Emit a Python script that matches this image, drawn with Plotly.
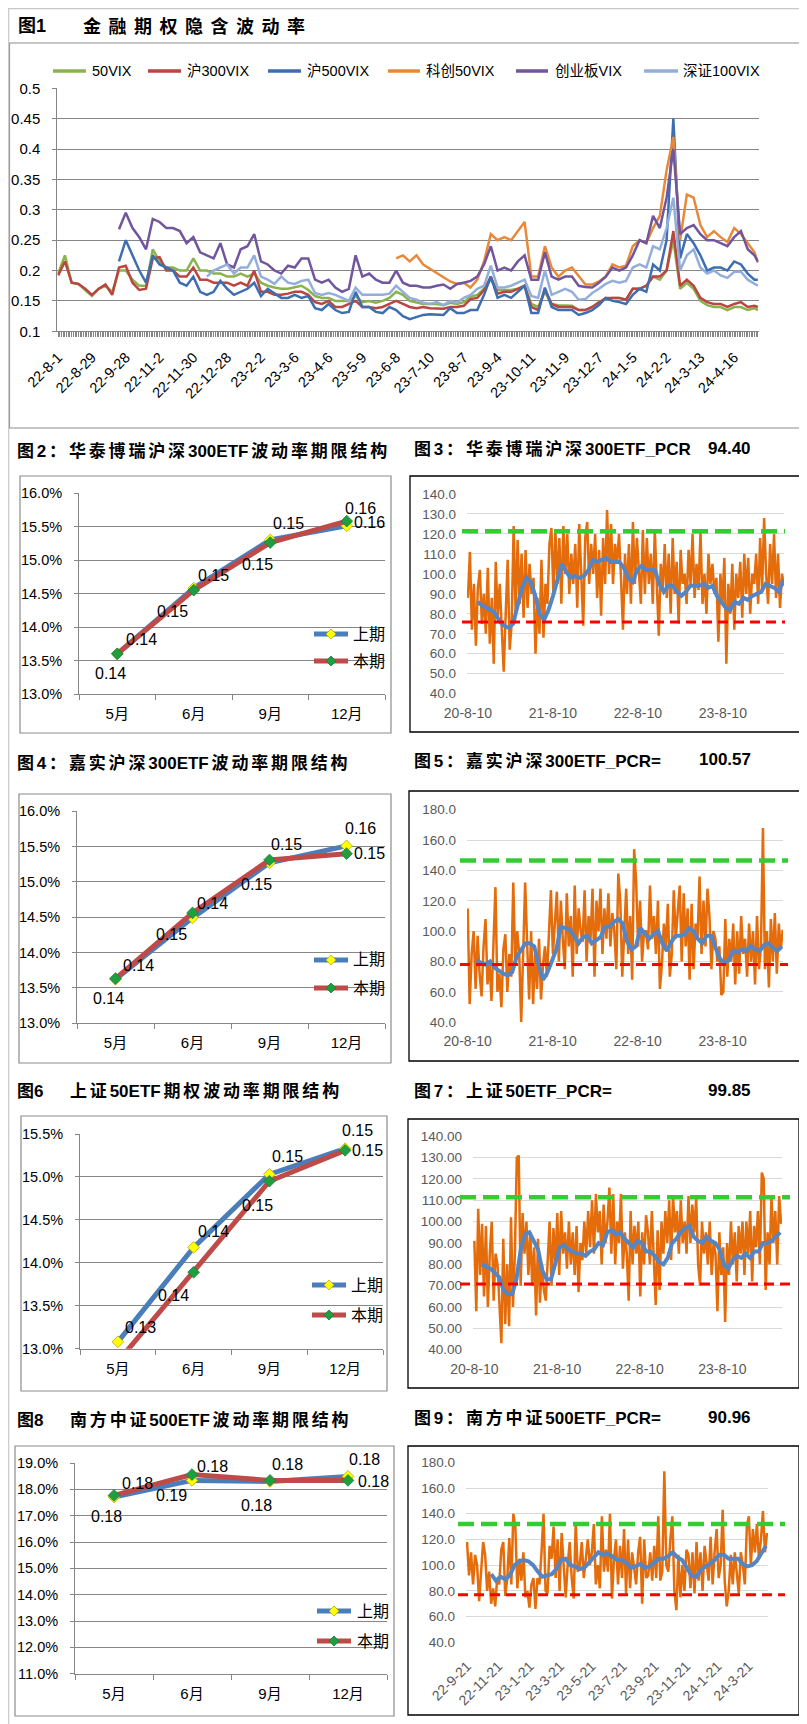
import pandas as pd
import plotly.graph_objects as go

FW, FH = 807, 1724
def fx(x): return x / FW
def fy(y): return 1 - y / FH
N = None
FONT = "Liberation Sans, Arial, Noto Sans CJK SC, sans-serif"
EPS = 1e-7

# ---------------- 图1 data (trading-day index, every 4th day) ----------------
VIX_IDX = list(range(0, 413, 4)) + [414]
VIX_TICK_POS = list(range(0, 401, 20))
VIX_TICK_LABELS = ["22-8-1", "22-8-29", "22-9-28", "22-11-2", "22-11-30", "22-12-28", "23-2-2",
                   "23-3-6", "23-4-6", "23-5-9", "23-6-8", "23-7-10", "23-8-7", "23-9-4", "23-10-11",
                   "23-11-9", "23-12-7", "24-1-5", "24-2-2", "24-3-13", "24-4-16"]
VIX_Y_TICKS = [0.1, 0.15, 0.2, 0.25, 0.3, 0.35, 0.4, 0.45, 0.5]
VIX_Y_TEXT = ["0.1", "0.15", "0.2", "0.25", "0.3", "0.35", "0.4", "0.45", "0.5"]

VIX_50 = [.195, .225, .18, .178, .168, .158, .17, .175, .165, .2,
          .2, .185, .175, .175, .235, .215, .205, .205, .2, .2,
          .22, .2, .2, .195, .195, .19, .19, .195, .19, .195,
          .18, .175, .172, .17, .17, .172, .175, .168, .158, .155,
          .155, .15, .15, .15, .158, .148, .15, .147, .15, .155,
          .165, .16, .15, .147, .145, .145, .145, .143, .147, .145,
          .148, .157, .16, .17, .185, .168, .168, .168, .17, .175,
          .145, .14, .165, .145, .143, .142, .142, .135, .135, .14,
          .148, .153, .155, .155, .152, .17, .17, .175, .19, .185,
          .2, .25, .17, .18, .17, .15, .143, .14, .14, .135,
          .14, .14, .135, .138, .135]
VIX_HS300 = [.192, .215, .18, .178, .17, .16, .17, .177, .16, .205,
             .208, .18, .168, .17, .22, .222, .2, .2, .19, .19,
             .205, .185, .185, .18, .18, .18, .175, .18, .175, .2,
             .165, .165, .16, .16, .162, .165, .165, .16, .148, .145,
             .15, .14, .14, .145, .15, .14, .14, .138, .14, .145,
             .15, .145, .14, .138, .14, .138, .138, .137, .14, .14,
             .142, .153, .155, .168, .19, .162, .165, .165, .17, .175,
             .14, .135, .17, .145, .14, .14, .14, .135, .135, .14,
             .148, .155, .155, .155, .152, .17, .17, .175, .19, .19,
             .2, .265, .175, .185, .175, .155, .148, .145, .145, .14,
             .145, .148, .14, .142, .14]
VIX_ZZ500 = [N, N, N, N, N, N, N, N, N, .215,
             .25, .225, .2, .18, .225, .21, .205, .2, .18, .175,
             .19, .165, .16, .165, .183, .17, .16, .165, .17, .18,
             .158, .17, .162, .155, .155, .16, .155, .158, .138, .135,
             .145, .135, .13, .132, .165, .14, .14, .132, .13, .14,
             .135, .125, .12, .123, .127, .128, .128, .127, .138, .13,
             .13, .135, .135, .16, .19, .155, .16, .155, .165, .175,
             .13, .13, .172, .14, .135, .135, .135, .127, .13, .135,
             .143, .155, .15, .148, .145, .16, .17, .165, .21, .2,
             .25, .45, .22, .26, .245, .225, .2, .205, .205, .2,
             .215, .21, .195, .185, .185]
VIX_KC50 = [N] * 50 + [
             .22, .225, .215, .225, .21, .203, .197, .19, .182, .178,
             .18, .172, .185, .215, .26, .25, .255, .25, .265, .28,
             .19, .19, .24, .205, .19, .2, .205, .19, .177, .177,
             .182, .19, .21, .205, .208, .24, .25, .245, .27, .29,
             .365, .42, .25, .325, .32, .275, .255, .265, .255, .247,
             .27, .26, .245, .23, .213]
VIX_CYB = [N, N, N, N, N, N, N, N, N, .268,
           .295, .27, .255, .235, .285, .28, .27, .27, .265, .245,
           .255, .23, .225, .22, .245, .21, .205, .235, .24, .26,
           .215, .21, .2, .195, .208, .205, .22, .22, .185, .18,
           .185, .172, .165, .17, .225, .19, .195, .185, .18, .18,
           .2, .18, .175, .175, .172, .172, .175, .177, .17, .178,
           .18, .183, .19, .21, .24, .2, .205, .2, .215, .225,
           .185, .185, .23, .19, .185, .19, .19, .175, .173, .172,
           .18, .19, .205, .2, .205, .225, .25, .245, .29, .27,
           .32, .4, .26, .27, .275, .26, .25, .25, .245, .24,
           .255, .265, .235, .225, .215]
VIX_SZ100 = [N] * 22 + [
             .19, .2, .205, .21, .195, .205, .205, .225,
             .19, .185, .178, .19, .18, .178, .183, .185, .163, .16,
             .163, .16, .155, .15, .172, .16, .16, .16, .16, .162,
             .175, .165, .155, .152, .147, .145, .148, .143, .15, .147,
             .155, .16, .17, .175, .208, .172, .172, .175, .18, .185,
             .158, .155, .2, .16, .165, .17, .165, .152, .153, .163,
             .17, .178, .183, .18, .183, .205, .21, .205, .24, .235,
             .27, .32, .2, .225, .235, .205, .195, .2, .192, .188,
             .198, .198, .185, .178, .175]
VIX_SERIES = [("50VIX", VIX_50, "#8AB34E"), ("沪300VIX", VIX_HS300, "#BA4541"),
              ("沪500VIX", VIX_ZZ500, "#3D6FB0"), ("科创50VIX", VIX_KC50, "#E8893A"),
              ("创业板VIX", VIX_CYB, "#71569E"), ("深证100VIX", VIX_SZ100, "#93AEDA")]

# ---------------- term structure data ----------------
TERM_CATS = ["5月", "6月", "9月", "12月"]
HT300_PREV = [0.1360, 0.1458, 0.1530, 0.1551]
HT300_CURR = [0.1360, 0.1455, 0.1526, 0.1558]
JS300_PREV = [0.1362, 0.1449, 0.1527, 0.1551]
JS300_CURR = [0.1363, 0.1456, 0.1531, 0.1540]
SZ50_PREV = [0.1308, 0.1418, 0.1503, 0.1533]
SZ50_CURR = [0.1285, 0.1389, 0.1495, 0.1531]
NF500_PREV = [0.1771, 0.1834, 0.1830, 0.1849]
NF500_CURR = [0.1777, 0.1856, 0.1834, 0.1834]

# ---------------- PCR data ----------------
HT300_PCR = [88, 111, 72, 95, 64, 93, 102, 75, 90, 70,
             103, 65, 88, 55, 106, 78, 95, 70, 51, 80,
             107, 62, 75, 124, 80, 117, 85, 110, 78, 112,
             83, 105, 90, 98, 60, 88, 70, 107, 68, 95,
             85, 115, 123, 90, 122, 95, 118, 85, 124, 100,
             120, 90, 110, 95, 115, 83, 125, 100, 74, 118,
             126, 95, 115, 100, 120, 88, 112, 79, 118, 95,
             132, 100, 125, 95, 115, 105, 120, 98, 72, 110,
             90, 115, 85, 126, 95, 118, 100, 85, 122, 90,
             118, 95, 110, 85, 122, 90, 69, 105, 92, 115,
             88, 110, 80, 118, 90, 106, 75, 112, 95, 100,
             85, 112, 95, 120, 88, 105, 92, 121, 85, 100,
             80, 110, 95, 105, 90, 98, 66, 100, 85, 108,
             55, 95, 80, 105, 72, 100, 88, 106, 78, 110,
             90, 108, 80, 100, 95, 110, 85, 118, 92, 128,
             100, 85, 115, 95, 120, 88, 110, 83, 100, 94]
HT300_MA = [86, 84, 83, 82, 80, 76, 74, 73, 75, 84, 93, 98, 96, 89, 80, 77, 82, 89, 98, 105,
            101, 98, 99, 98, 99, 102, 107, 106, 107, 108, 106, 106, 106, 103, 98, 96, 102, 104, 102, 102,
            102, 95, 91, 94, 94, 91, 89, 91, 94, 94, 94, 95, 93, 94, 89, 86, 83, 82, 86, 85,
            88, 87, 89, 90, 91, 95, 94, 93, 91, 97]
HT300_DATES = ("2020-08-10", "2024-04-29")
HT300_MA_DATES = ("2020-09-21", "2024-04-26")
HT300_HIGH, HT300_LOW = 121.3, 75.9

JS300_PCR = [115, 52, 85, 100, 62, 97, 72, 57, 90, 108,
             65, 80, 54, 95, 129, 60, 72, 50, 88, 98,
             60, 85, 70, 132, 78, 100, 85, 40, 95, 132,
             92, 55, 100, 52, 85, 62, 95, 55, 78, 90,
             70, 95, 127, 85, 110, 126, 80, 120, 95, 75,
             125, 90, 110, 70, 130, 85, 115, 100, 93, 127,
             80, 110, 95, 128, 70, 120, 100, 128, 85, 115,
             95, 125, 90, 112, 100, 75, 138, 120, 70, 105,
             128, 85, 110, 68, 154, 133, 90, 120, 80, 100,
             100, 88, 130, 95, 110, 85, 120, 62, 78, 105,
             90, 118, 70, 85, 127, 95, 110, 130, 80, 125,
             90, 115, 68, 118, 75, 105, 95, 136, 85, 120,
             90, 128, 110, 75, 100, 95, 80, 90, 58, 60,
             108, 70, 95, 80, 105, 65, 100, 72, 110, 85,
             95, 70, 105, 80, 100, 65, 110, 75, 90, 168,
             75, 100, 63, 108, 80, 112, 72, 105, 88, 101]
JS300_MA = [81, 79, 78, 80, 76, 74, 72, 71, 73, 83, 88, 92, 92, 90, 78, 68, 73, 80, 88, 103,
            102, 101, 97, 92, 96, 97, 92, 94, 96, 103, 103, 106, 108, 105, 93, 88, 90, 102, 98, 95,
            98, 100, 92, 87, 93, 97, 97, 98, 102, 100, 95, 92, 97, 97, 89, 82, 79, 81, 87, 86,
            88, 87, 90, 88, 87, 91, 92, 89, 87, 90]
JS300_DATES = ("2020-08-10", "2024-04-24")
JS300_MA_DATES = ("2020-09-18", "2024-04-20")
JS300_HIGH, JS300_LOW = 146.5, 78.0

SZ50_PCR = [91, 58, 106, 75, 99, 65, 98, 60, 85, 100,
            63, 85, 80, 60, 43, 92, 52, 80, 51, 102,
            60, 85, 130, 131, 70, 104, 85, 100, 75, 95,
            70, 88, 56, 92, 62, 80, 68, 63, 85, 100,
            70, 97, 80, 104, 75, 105, 85, 95, 78, 100,
            80, 95, 75, 98, 67, 90, 82, 100, 85, 105,
            88, 110, 85, 113, 95, 105, 80, 108, 90, 100,
            116, 85, 113, 80, 100, 90, 113, 78, 95, 85,
            63, 105, 80, 98, 85, 100, 65, 95, 80, 103,
            95, 80, 105, 85, 61, 96, 68, 100, 85, 105,
            90, 110, 82, 112, 95, 105, 85, 110, 90, 100,
            85, 112, 90, 108, 95, 111, 80, 70, 100, 85,
            95, 80, 100, 75, 90, 85, 58, 95, 75, 88,
            53, 90, 75, 100, 80, 95, 72, 98, 85, 100,
            75, 100, 85, 105, 72, 98, 88, 105, 80, 123,
            120, 68, 95, 80, 112, 90, 105, 80, 112, 99]
SZ50_MA = [80, 79, 78, 76, 74, 68, 66, 66, 73, 87, 94, 95, 91, 87, 77, 73, 73, 80, 88, 89,
           87, 86, 85, 85, 84, 86, 87, 90, 89, 95, 96, 94, 95, 92, 90, 88, 91, 90, 86, 86,
           84, 81, 80, 83, 90, 92, 95, 97, 98, 93, 91, 90, 93, 91, 90, 87, 80, 78, 82, 84,
           83, 85, 83, 86, 86, 90, 90, 91, 93, 95]
SZ50_DATES = ("2020-08-10", "2024-04-25")
SZ50_MA_DATES = ("2020-09-12", "2024-04-21")
SZ50_HIGH, SZ50_LOW = 111.4, 70.8

NF500_PCR = [118, 92, 110, 85, 108, 100, 72, 96, 118, 108,
             80, 95, 70, 82, 68, 90, 85, 112, 118, 76,
             90, 121, 85, 140, 130, 82, 105, 88, 110, 75,
             80, 67, 85, 90, 66, 90, 85, 110, 140, 80,
             78, 115, 105, 130, 90, 120, 80, 125, 95, 75,
             100, 118, 90, 74, 133, 95, 100, 118, 90, 108,
             120, 100, 110, 132, 85, 100, 82, 138, 95, 112,
             95, 140, 74, 105, 120, 85, 115, 90, 128, 78,
             120, 82, 110, 98, 85, 110, 122, 70, 120, 90,
             92, 110, 88, 115, 90, 138, 88, 95, 173, 100,
             95, 120, 138, 80, 65, 108, 75, 100, 80, 112,
             108, 82, 110, 78, 118, 88, 110, 80, 115, 102,
             88, 122, 85, 110, 128, 90, 100, 143, 88, 68,
             80, 108, 85, 110, 95, 78, 110, 100, 85, 130,
             138, 100, 128, 110, 132, 105, 120, 142, 110, 125]
NF500_MA = [93, 88, 91, 89, 92, 100, 103, 104, 103, 100, 95, 91, 92, 93, 97, 104, 105, 100, 99, 97,
            98, 102, 107, 110, 108, 109, 107, 104, 104, 102, 98, 99, 101, 98, 99, 102, 105, 105, 107, 110,
            106, 104, 98, 92, 91, 96, 99, 101, 104, 108, 108, 105, 105, 105, 101, 99, 100, 103, 109, 115]
NF500_DATES = ("2022-09-21", "2024-04-26")
NF500_MA_DATES = ("2022-11-07", "2024-04-24")
NF500_HIGH, NF500_LOW = 132.0, 77.0

YEAR_TICKS = ["2020-08-10", "2021-08-10", "2022-08-10", "2023-08-10"]
NF_TICKS = ["2022-09-21", "2022-11-21", "2023-01-21", "2023-03-21", "2023-05-21",
            "2023-07-21", "2023-09-21", "2023-11-21", "2024-01-21", "2024-03-21"]

PCR_NOW = {"ht": "94.40", "js": "100.57", "sz": "99.85", "nf": "90.96"}

# ---------------- build figure ----------------
fig = go.Figure()
layout = {}
shapes = []
ann = []

def aname(k, c):
    return f"{c}axis" if k == 1 else f"{c}axis{k}"

def aref(k, c):
    return c if k == 1 else f"{c}{k}"

def text(x, y, s, size=14, anchor="left", bold=False, color="#000", family=FONT):
    ann.append(dict(x=fx(x), y=fy(y), xref="paper", yref="paper", text=(f"<b>{s}</b>" if bold else s),
                    showarrow=False, xanchor=anchor, yanchor="middle",
                    font=dict(size=size, color=color, family=family)))

def box(x0, y0, x1, y1, color, width=1.0):
    shapes.append(dict(type="rect", xref="paper", yref="paper", x0=fx(x0), x1=fx(x1), y0=fy(y1), y1=fy(y0),
                       line=dict(color=color, width=width), fillcolor="rgba(0,0,0,0)", layer="below"))

def hline(x0, x1, y, color, width):
    shapes.append(dict(type="line", xref="paper", yref="paper", x0=fx(x0), x1=fx(x1), y0=fy(y), y1=fy(y),
                       line=dict(color=color, width=width)))

def diamond(xc, yc, r, fill, edge):
    p = (f"M {fx(xc)},{fy(yc - r)} L {fx(xc + r)},{fy(yc)} L {fx(xc)},{fy(yc + r)} "
         f"L {fx(xc - r)},{fy(yc)} Z")
    shapes.append(dict(type="path", xref="paper", yref="paper", path=p, fillcolor=fill,
                       line=dict(color=edge, width=0.8)))

SP = "\u2006"
def spaced(s, sp=SP):
    out = ""
    for i, ch in enumerate(s):
        out += ch
        if i < len(s) - 1 and (ord(ch) > 0x2E80 or ord(s[i + 1]) > 0x2E80):
            out += sp
    return out

# page frame
shapes.append(dict(type="line", xref="paper", yref="paper", x0=fx(0.7), x1=fx(0.7), y0=0, y1=1,
                   line=dict(color="#C8C8C8", width=1.2)))
hline(0, 807, 0.7, "#C8C8C8", 1.2)

# ---- 图1 ----
text(8, 18, "图1", size=18, bold=True)
text(73, 18, spaced("金融期权隐含波动率", "\u2004\u200a"), size=18, bold=True)
box(1.5, 35, 797, 420, "#8C8C8C", 1.2)
for name, vals, col in VIX_SERIES:
    fig.add_trace(go.Scatter(x=VIX_IDX, y=vals, mode="lines", name=name,
                             line=dict(color=col, width=2.5), xaxis="x", yaxis="y"))
layout["xaxis"] = dict(domain=[fx(49.3), fx(750.7)], anchor="y", range=[-0.5, 414.5], automargin=False,
                       tickmode="array", tickvals=VIX_TICK_POS, ticktext=VIX_TICK_LABELS, tickangle=-45,
                       ticks="outside", ticklen=5, tickcolor="#868686", showline=True, linecolor="#868686",
                       showgrid=False, zeroline=False, ticklabelstandoff=6,
                       tickfont=dict(size=14.5, color="#000", family=FONT),
                       minor=dict(ticks="outside", ticklen=5, tickmode="linear", tick0=0, dtick=1,
                                  tickcolor="#868686", showgrid=False))
layout["yaxis"] = dict(domain=[fy(323.3), fy(80.3)], anchor="x", range=[0.1 - EPS, 0.5 + EPS], automargin=False,
                       tickmode="array", tickvals=VIX_Y_TICKS, ticktext=VIX_Y_TEXT,
                       showgrid=True, gridcolor="#868686", gridwidth=1, showline=True, linecolor="#868686",
                       ticks="outside", ticklen=4, tickcolor="#868686", zeroline=False, ticklabelstandoff=9,
                       tickfont=dict(size=15, color="#000", family=FONT))
LEG1 = [(45, 78, 82), (140, 173, 177), (260, 293, 297), (380, 412, 416), (508, 540, 545), (636, 670, 673)]
for (x0, x1, xt), (name, _, col) in zip(LEG1, VIX_SERIES):
    hline(x0, x1, 63, col, 3.5)
    text(xt, 63, name, size=14.5)

# ---- term structure charts ----
TERM = [
    dict(k=2, prev=HT300_PREV, curr=HT300_CURR, rng=[0.13, 0.16], dt=0.005,
         dx=(71, 377), dy=(485, 686), box=(12, 468, 383, 725),
         po=[(24, 14), (20, 13), (18, 16), (23, 3)], co=[(-7, -20), (-21, -21), (-13, -22), (14, 13)],
         leg=(306, 340, 343, 626, 653), title=(7, 443, "图2：华泰博瑞沪深300ETF波动率期限结构", None)),
    dict(k=4, prev=JS300_PREV, curr=JS300_CURR, rng=[0.13, 0.16], dt=0.005,
         dx=(69, 377), dy=(803.3, 1015), box=(11, 786, 383, 1055),
         po=[(23, 14), (20, 14), (17, 18), (14, 17)], co=[(-7, -20), (-21, -22), (-13, -25), (23, 0)],
         leg=(306, 340, 343, 952, 980), title=(7, 755, "图4：嘉实沪深300ETF波动率期限结构", None)),
    dict(k=6, prev=SZ50_PREV, curr=SZ50_CURR, rng=[0.13, 0.155], dt=0.005,
         dx=(72, 375), dy=(1126, 1340.7), box=(13, 1108, 379, 1383),
         po=[(23, 14), (20, 16), (18, 18), (12, 18)], co=[None, (-20, -23), (-12, -24), (22, 0)],
         leg=(304, 338, 341, 1277, 1307), title=(7, 1083, "图6", "上证50ETF期权波动率期限结构")),
    dict(k=8, prev=NF500_PREV, curr=NF500_CURR, rng=[0.11, 0.19], dt=0.01,
         dx=(67, 379), dy=(1455, 1665.7), box=(7, 1438, 386, 1708),
         po=[(23, 13), (20, 14), (17, 17), (16, 17)], co=[(-8, -21), (-21, -21), (-14, -25), (25, -1)],
         leg=(309, 343, 347, 1603, 1633), title=(7, 1412, "图8", "南方中证500ETF波动率期限结构")),
]
BLUE, RED = "#4A7EBB", "#BE4B48"
for t in TERM:
    k = t["k"]
    xr, yr = aref(k, "x"), aref(k, "y")
    box(*t["box"], "#8C8C8C", 1.2)
    fig.add_trace(go.Scatter(x=TERM_CATS, y=t["prev"], mode="lines+markers", name="上期",
                             line=dict(color=BLUE, width=5),
                             marker=dict(symbol="diamond", size=9, color="#FFFF00",
                                         line=dict(color="#B9A800", width=0.8)),
                             xaxis=xr, yaxis=yr))
    fig.add_trace(go.Scatter(x=TERM_CATS, y=t["curr"], mode="lines+markers", name="本期",
                             line=dict(color=RED, width=5),
                             marker=dict(symbol="diamond", size=9, color="#1E9E3E",
                                         line=dict(color="#17803A", width=0.8)),
                             xaxis=xr, yaxis=yr))
    layout[aname(k, "x")] = dict(domain=[fx(t["dx"][0]), fx(t["dx"][1])], anchor=yr, type="category",
                                 range=[-0.5, 3.5], tickson="boundaries", ticks="outside", ticklen=5,
                                 tickcolor="#868686", showline=True, linecolor="#868686", showgrid=False,
                                 automargin=False, ticklabelstandoff=6,
                                 tickfont=dict(size=15, color="#000", family=FONT))
    layout[aname(k, "y")] = dict(domain=[fy(t["dy"][1]), fy(t["dy"][0])], anchor=xr, automargin=False,
                                 range=[t["rng"][0] - EPS, t["rng"][1] + EPS], tick0=t["rng"][0], dtick=t["dt"],
                                 tickformat=".1%", showgrid=True, gridcolor="#868686", showline=True,
                                 linecolor="#868686", ticks="outside", ticklen=4, tickcolor="#868686",
                                 zeroline=False, ticklabelstandoff=9,
                                 tickfont=dict(size=14.5, color="#000", family=FONT))
    for vals, offs in ((t["prev"], t["po"]), (t["curr"], t["co"])):
        for cat, v, o in zip(TERM_CATS, vals, offs):
            if o is None:
                continue
            ann.append(dict(x=cat, y=v, xref=xr, yref=yr, text=f"{v:.2f}", showarrow=False,
                            xshift=o[0], yshift=o[1], font=dict(size=16, color="#000", family=FONT)))
    lx0, lx1, lxt, ly1, ly2 = t["leg"]
    hline(lx0, lx1, ly1, BLUE, 5)
    diamond((lx0 + lx1) / 2, ly1, 5, "#FFFF00", "#B9A800")
    text(lxt, ly1, "上期", size=16)
    hline(lx0, lx1, ly2, RED, 5)
    diamond((lx0 + lx1) / 2, ly2, 5, "#1E9E3E", "#17803A")
    text(lxt, ly2, "本期", size=16)
    tx, ty, s1, s2 = t["title"]
    if s2 is None:
        text(tx, ty, spaced(s1), size=17, bold=True)
    else:
        text(tx, ty, s1, size=17, bold=True)
        text(60, ty, spaced(s2), size=17, bold=True)

# ---- PCR charts ----
PCR = [
    dict(k=3, vals=HT300_PCR, ma=HT300_MA, d=HT300_DATES, md=HT300_MA_DATES, hi=HT300_HIGH, lo=HT300_LOW,
         rng=[40, 140], dt=10, fmt=".1f", dx=(459, 776), dy=(486, 685.7), xr=["2020-08-06", "2024-04-29"],
         ticks=YEAR_TICKS, angle=0, box=(402, 468, 794, 724), dash=(454, 777),
         title=(441, "图3：华泰博瑞沪深300ETF_PCR"), now=PCR_NOW["ht"]),
    dict(k=5, vals=JS300_PCR, ma=JS300_MA, d=JS300_DATES, md=JS300_MA_DATES, hi=JS300_HIGH, lo=JS300_LOW,
         rng=[40, 180], dt=20, fmt=".1f", dx=(459, 775), dy=(801.7, 1014.3), xr=["2020-08-07", "2024-04-25"],
         ticks=YEAR_TICKS, angle=0, box=(401, 783, 793, 1053), dash=(452, 780),
         title=(753, "图5：嘉实沪深300ETF_PCR="), now=PCR_NOW["js"]),
    dict(k=7, vals=SZ50_PCR, ma=SZ50_MA, d=SZ50_DATES, md=SZ50_MA_DATES, hi=SZ50_HIGH, lo=SZ50_LOW,
         rng=[40, 140], dt=10, fmt=".2f", dx=(465, 774), dy=(1128.3, 1341.7), xr=["2020-08-04", "2024-04-29"],
         ticks=YEAR_TICKS, angle=0, box=(400, 1111, 791, 1380), dash=(452, 782),
         title=(1083, "图7：上证50ETF_PCR="), now=PCR_NOW["sz"]),
    dict(k=9, vals=NF500_PCR, ma=NF500_MA, d=NF500_DATES, md=NF500_MA_DATES, hi=NF500_HIGH, lo=NF500_LOW,
         rng=[40, 180], dt=20, fmt=".1f", dx=(458, 760), dy=(1454.3, 1634.3), xr=["2022-09-19", "2024-04-28"],
         ticks=NF_TICKS, angle=-45, box=(400, 1438, 791, 1707), dash=(450, 777),
         title=(1410, "图9：南方中证500ETF_PCR="), now=PCR_NOW["nf"]),
]
for p in PCR:
    k = p["k"]
    xr, yr = aref(k, "x"), aref(k, "y")
    box(*p["box"], "#000000", 1.3)
    xd = pd.date_range(p["d"][0], p["d"][1], periods=len(p["vals"]))
    xm = pd.date_range(p["md"][0], p["md"][1], periods=len(p["ma"]))
    fig.add_trace(go.Scatter(x=xd, y=p["vals"], mode="lines", line=dict(color="#E46C0A", width=2.5),
                             xaxis=xr, yaxis=yr))
    fig.add_trace(go.Scatter(x=xm, y=p["ma"], mode="lines", line=dict(color="#5585C3", width=4),
                             xaxis=xr, yaxis=yr))
    layout[aname(k, "x")] = dict(domain=[fx(p["dx"][0]), fx(p["dx"][1])], anchor=yr, type="date",
                                 range=p["xr"], tickmode="array", tickvals=p["ticks"], tickformat="%y-%-m-%-d",
                                 tickangle=p["angle"], showgrid=False, showline=False, ticks="", zeroline=False,
                                 automargin=False, ticklabelstandoff=(12 if p["angle"] else 9),
                                 tickfont=dict(size=14, color="#595959", family=FONT))
    layout[aname(k, "y")] = dict(domain=[fy(p["dy"][1]), fy(p["dy"][0])], anchor=xr, automargin=False,
                                 range=[p["rng"][0] - EPS, p["rng"][1] + EPS], tick0=p["rng"][0], dtick=p["dt"],
                                 tickformat=p["fmt"], showgrid=True, gridcolor="#D9D9D9", showline=False,
                                 zeroline=False, ticks="", ticklabelstandoff=10,
                                 tickfont=dict(size=13.5, color="#595959", family=FONT))
    shapes.append(dict(type="line", xref="paper", yref=yr, x0=fx(p["dash"][0]), x1=fx(p["dash"][1]),
                       y0=p["hi"], y1=p["hi"], line=dict(color="#33CC33", width=4.5, dash="16px,7px")))
    shapes.append(dict(type="line", xref="paper", yref=yr, x0=fx(p["dash"][0]), x1=fx(p["dash"][1]),
                       y0=p["lo"], y1=p["lo"], line=dict(color="#FF0000", width=3, dash="10px,6px")))
    ty, s = p["title"]
    text(404, ty, spaced(s), size=17, bold=True)
    text(745, ty - 1, p["now"], size=17, bold=True, anchor="right")

fig.update_layout(width=FW, height=FH, margin=dict(l=0, r=0, t=0, b=0, pad=0, autoexpand=False),
                  showlegend=False, paper_bgcolor="white", plot_bgcolor="white", shapes=shapes,
                  annotations=ann, font=dict(family=FONT), **layout)
fig.write_html("out.html")
